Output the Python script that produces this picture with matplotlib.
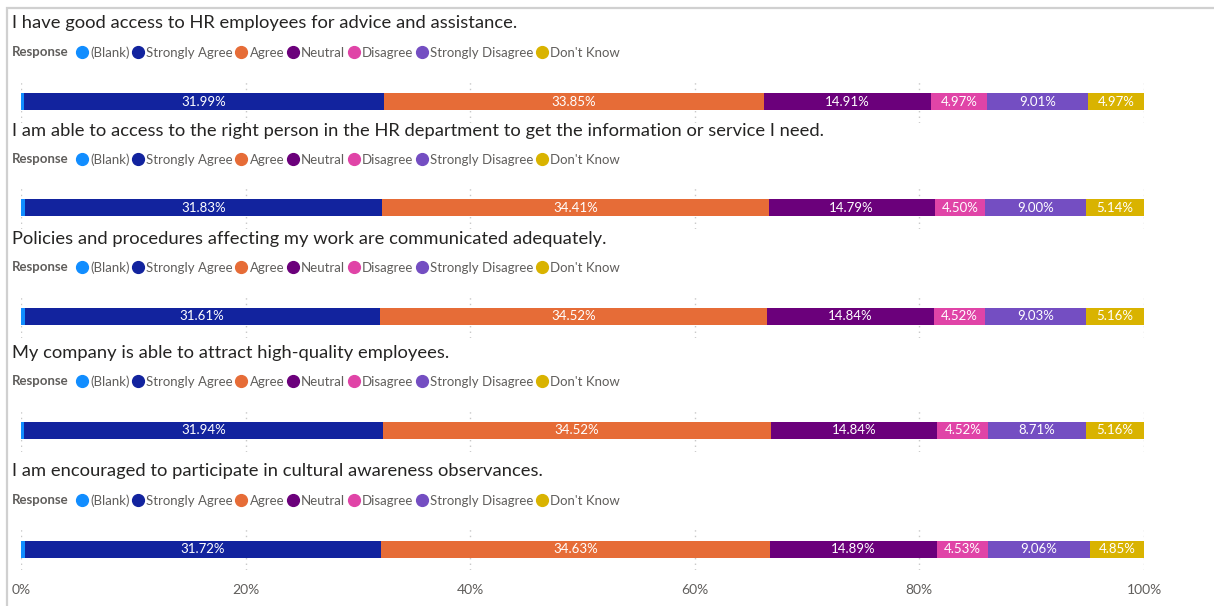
import matplotlib.pyplot as plt
from matplotlib.lines import Line2D
from matplotlib.patches import Rectangle

questions = [
    "I have good access to HR employees for advice and assistance.",
    "I am able to access to the right person in the HR department to get the information or service I need.",
    "Policies and procedures affecting my work are communicated adequately.",
    "My company is able to attract high-quality employees.",
    "I am encouraged to participate in cultural awareness observances.",
]
responses = ["(Blank)", "Strongly Agree", "Agree", "Neutral", "Disagree",
             "Strongly Disagree", "Don't Know"]
colors = ["#118DFF", "#12239E", "#E66C37", "#6B007B", "#E044A7", "#744EC2", "#D9B300"]

blank = [0.30, 0.33, 0.32, 0.31, 0.32]
strongly_agree = [31.99, 31.83, 31.61, 31.94, 31.72]
agree = [33.85, 34.41, 34.52, 34.52, 34.63]
neutral = [14.91, 14.79, 14.84, 14.84, 14.89]
disagree = [4.97, 4.50, 4.52, 4.52, 4.53]
strongly_disagree = [9.01, 9.00, 9.03, 8.71, 9.06]
dont_know = [4.97, 5.14, 5.16, 5.16, 4.85]
series = [blank, strongly_agree, agree, neutral, disagree, strongly_disagree, dont_know]

# layout in pixels (figure is 1214 x 606)
W, H = 1214, 606
title_y = [22, 130, 238, 352, 470]
legend_y = [52, 159, 267, 381, 500]
bar_y = [101.5, 207.5, 316.5, 430.5, 549]
x0, x1 = 21, 1144

plt.rcParams['font.family'] = ['Lato', 'DejaVu Sans']
fig = plt.figure(figsize=(W / 100, H / 100), dpi=100)

# frame around the visual
fig.patches.append(Rectangle((7 / W, -0.1), 1.1, 1.1 - 8 / H, transform=fig.transFigure,
                             fill=False, edgecolor="#D0D0D0", linewidth=1.6))

handles = [Line2D([], [], marker='o', ls='', color=c, markersize=8.5) for c in colors]

for i, q in enumerate(questions):
    fig.text(12 / W, 1 - (title_y[i] + 1) / H, q, fontsize=13.2, color="#252423",
             va='center', ha='left')
    fig.text(12 / W, 1 - legend_y[i] / H, "Response", fontsize=9.5, color="#605E5C",
             fontweight='bold', va='center', ha='left')
    fig.legend(handles, responses, loc='center left', ncol=7, frameon=False,
               bbox_to_anchor=(75 / W, 1 - (legend_y[i] + 0.5) / H),
               bbox_transform=fig.transFigure,
               fontsize=9.5, labelcolor="#605E5C", handletextpad=0.15, columnspacing=0.12,
               handlelength=1.0, borderpad=0, borderaxespad=0)

    ax = fig.add_axes([x0 / W, 1 - (bar_y[i] + 21) / H, (x1 - x0) / W, 42 / H])
    left = 0
    for j, s in enumerate(series):
        bars = ax.barh(0, s[i], left=left, height=17, color=colors[j], linewidth=0)
        if j > 0:
            ax.bar_label(bars, labels=[f"{s[i]:.2f}%"], label_type='center',
                         color='white', fontsize=9.5)
        left += s[i]
    ax.set_xlim(0, 100)
    ax.set_ylim(-21, 21)
    ax.set_xticks(range(0, 101, 20))
    ax.set_yticks([])
    ax.grid(axis='x', linestyle=(0, (1, 3)), color="#C8C8C8", linewidth=1)
    ax.set_axisbelow(True)
    for sp in ax.spines.values():
        sp.set_visible(False)
    ax.tick_params(axis='x', length=0, colors="#605E5C", labelsize=10, pad=10)
    if i < len(questions) - 1:
        ax.set_xticklabels([])
    else:
        ax.set_xticklabels([f"{t}%" for t in range(0, 101, 20)])

fig.savefig("out.png", dpi=100)
